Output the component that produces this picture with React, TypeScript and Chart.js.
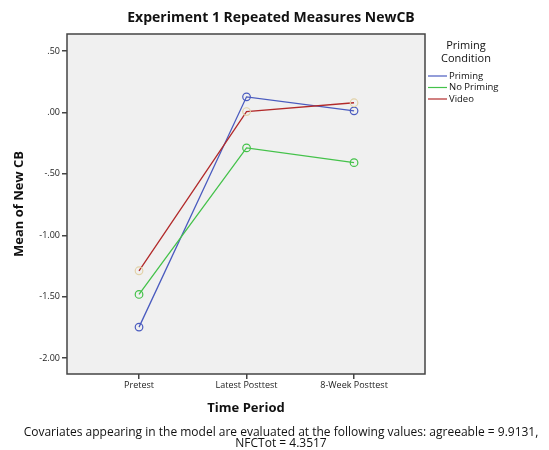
import React, { useEffect, useRef } from "react";
import { Chart, registerables } from "chart.js";

Chart.register(...registerables);

const categories = ["Pretest", "Latest Posttest", "8-Week Posttest"];
const primingValues = [-1.748, 0.128, 0.014];
const noPrimingValues = [-1.482, -0.288, -0.408];
const videoValues = [-1.289, 0.008, 0.08];
const yTickValues = [-2.0, -1.5, -1.0, -0.5, 0.0, 0.5];
const seriesNames = ["Priming", "No Priming", "Video"];
const chartTitle = "Experiment 1 Repeated Measures NewCB";
const yAxisTitle = "Mean of New CB";
const xAxisTitle = "Time Period";
const legendTitle = ["Priming", "Condition"];
const footnote = [
  "Covariates appearing in the model are evaluated at the following values: agreeable = 9.9131,",
  "NFCTot = 4.3517",
];

const FONT = "'Open Sans', 'DejaVu Sans', sans-serif";
const lineColors = ["#4a5bbf", "#44c24a", "#b22a2a"];
const pointColors = ["#4a5bbf", "#44c24a", "#e2d2a8"];

function fmtTick(v: number): string {
  const s = Math.abs(v).toFixed(2).replace(/^0/, "");
  return (v < 0 ? "-" : "") + s;
}

const decorPlugin = {
  id: "decor",
  beforeDraw(chart: any) {
    const { ctx, chartArea } = chart;
    ctx.save();
    ctx.fillStyle = "#f0f0f0";
    ctx.fillRect(chartArea.left, chartArea.top, chartArea.right - chartArea.left, chartArea.bottom - chartArea.top);
    ctx.restore();
  },
  afterDraw(chart: any) {
    const { ctx, chartArea } = chart;
    ctx.save();
    ctx.strokeStyle = "#444";
    ctx.lineWidth = 1.5;
    ctx.strokeRect(chartArea.left, chartArea.top, chartArea.right - chartArea.left, chartArea.bottom - chartArea.top);

    ctx.fillStyle = "#111";
    ctx.textBaseline = "middle";
    ctx.textAlign = "center";
    ctx.font = `bold 14px ${FONT}`;
    ctx.fillText(chartTitle, 271, 18);

    ctx.font = `bold 13px ${FONT}`;
    ctx.fillText(xAxisTitle, (chartArea.left + chartArea.right) / 2, 408);

    ctx.save();
    ctx.translate(19, (chartArea.top + chartArea.bottom) / 2);
    ctx.rotate(-Math.PI / 2);
    ctx.fillText(yAxisTitle, 0, 0);
    ctx.restore();

    ctx.font = `11px ${FONT}`;
    ctx.fillText(legendTitle[0], 466, 46);
    ctx.fillText(legendTitle[1], 466, 59);

    ctx.font = `9.5px ${FONT}`;
    ctx.textAlign = "left";
    seriesNames.forEach((name, i) => {
      const y = 76 + i * 11.5;
      ctx.strokeStyle = lineColors[i];
      ctx.lineWidth = 1.2;
      ctx.beginPath();
      ctx.moveTo(428, y);
      ctx.lineTo(447, y);
      ctx.stroke();
      ctx.fillStyle = "#111";
      ctx.fillText(name, 449, y);
    });

    ctx.textAlign = "center";
    ctx.font = `12px ${FONT}`;
    ctx.fillText(footnote[0], 281, 433);
    ctx.fillText(footnote[1], 281, 444);
    ctx.restore();
  },
};

export default function App() {
  const canvasRef = useRef<HTMLCanvasElement | null>(null);

  useEffect(() => {
    const canvas = canvasRef.current;
    if (!canvas) return;
    const series = [primingValues, noPrimingValues, videoValues];
    const chart = new Chart(canvas, {
      type: "line",
      data: {
        datasets: series.map((vals, i) => ({
          label: seriesNames[i],
          data: vals.map((v, j) => ({ x: j, y: v })),
          borderColor: lineColors[i],
          borderWidth: 1.3,
          pointRadius: 3.8,
          pointBorderWidth: 1.2,
          pointBorderColor: pointColors[i],
          pointBackgroundColor: "rgba(0,0,0,0)",
          fill: false,
          tension: 0,
          order: 3 - i,
        })),
      },
      options: {
        responsive: false,
        animation: false,
        events: [],
        layout: { padding: { left: 0, right: 124, top: 34, bottom: 0 } },
        plugins: {
          legend: { display: false },
          title: { display: false },
          tooltip: { enabled: false },
        },
        scales: {
          x: {
            type: "linear",
            min: -0.67,
            max: 2.66,
            afterBuildTicks: (axis: any) => {
              axis.ticks = categories.map((_, i) => ({ value: i }));
            },
            afterFit: (axis: any) => {
              axis.height = 76;
            },
            ticks: {
              callback: (v: any) => categories[v as number] ?? "",
              font: { family: FONT, size: 9 },
              color: "#222",
              padding: 1,
              maxRotation: 0,
            },
            grid: { drawOnChartArea: false, drawTicks: true, tickLength: 5, color: "#444", lineWidth: 1.5 },
            border: { display: false },
          },
          y: {
            min: -2.13,
            max: 0.64,
            afterBuildTicks: (axis: any) => {
              axis.ticks = yTickValues.map((v) => ({ value: v }));
            },
            afterFit: (axis: any) => {
              axis.width = 67;
            },
            ticks: {
              callback: (v: any) => fmtTick(Number(v)),
              font: { family: FONT, size: 9 },
              color: "#222",
              padding: 2,
            },
            grid: { drawOnChartArea: false, drawTicks: true, tickLength: 5, color: "#444", lineWidth: 1.5 },
            border: { display: false },
          },
        },
      },
      plugins: [decorPlugin],
    });
    return () => chart.destroy();
  }, []);

  return (
    <div style={{ position: "fixed", left: 0, top: 0, width: 549, height: 450, background: "#fff" }}>
      <canvas ref={canvasRef} width={549} height={450} style={{ width: 549, height: 450 }} />
    </div>
  );
}
